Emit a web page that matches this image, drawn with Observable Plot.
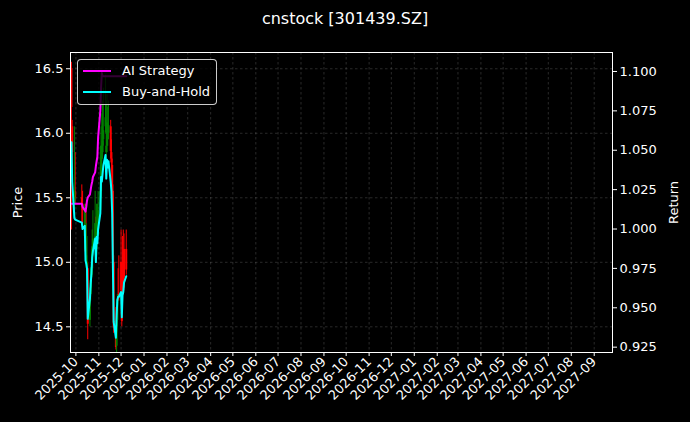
<!DOCTYPE html>
<html><head><meta charset="utf-8">
<script src="https://cdn.jsdelivr.net/npm/d3@7"></script>
<script src="https://cdn.jsdelivr.net/npm/@observablehq/plot@0.6"></script>
<style>
html,body{margin:0;padding:0;background:#000;}
#wrap{position:relative;width:690px;height:422px;background:#000;font-family:"DejaVu Sans",sans-serif;color:#fff;overflow:hidden;}
#title{height:38px;line-height:37px;text-align:center;font-size:16px;}
#legend{position:absolute;left:77px;top:59px;width:140px;height:46px;border:1px solid rgba(255,255,255,0.8);border-radius:4px;background:rgba(0,0,0,0.8);box-sizing:border-box;font-size:13px;}
.lg-line{position:absolute;left:5px;width:28px;height:2px;}
.lg-text{position:absolute;left:44px;line-height:16px;}
svg{display:block;}
</style>
</head><body>
<div id="wrap">
<div id="title">cnstock [301439.SZ]</div>
<div id="chart"></div>
<div id="legend">
  <div class="lg-line" style="top:10px;background:#ff00ff"></div><div class="lg-text" style="top:3px">AI Strategy</div>
  <div class="lg-line" style="top:31px;background:#00ffff"></div><div class="lg-text" style="top:24px">Buy-and-Hold</div>
</div>
</div>
<script>
const dates = ["2025-09-25","2025-09-26","2025-09-29","2025-09-30","2025-10-09","2025-10-10","2025-10-13","2025-10-14","2025-10-15","2025-10-16","2025-10-17","2025-10-20","2025-10-21","2025-10-22","2025-10-23","2025-10-24","2025-10-27","2025-10-28","2025-10-29","2025-10-30","2025-10-31","2025-11-03","2025-11-04","2025-11-05","2025-11-06","2025-11-07","2025-11-10","2025-11-11","2025-11-12","2025-11-13","2025-11-14","2025-11-17","2025-11-18","2025-11-19","2025-11-20","2025-11-21","2025-11-24","2025-11-25","2025-11-26","2025-11-27","2025-11-28","2025-12-01","2025-12-02","2025-12-03","2025-12-04","2025-12-05","2025-12-08"];
const opens  = [16.50,16.05,15.45,15.55,15.50,15.45,15.20,15.40,15.00,14.95,14.95,14.55,14.75,14.88,14.95,15.10,15.15,15.30,15.10,15.20,15.25,15.40,15.55,15.80,15.85,15.95,16.05,15.85,15.90,15.95,16.00,16.05,15.85,15.75,15.55,15.00,14.50,14.35,14.55,14.75,14.75,15.00,14.80,14.85,15.05,15.10,15.10];
const highs  = [16.55,16.10,16.05,15.85,15.60,15.55,15.45,15.45,15.30,15.20,15.00,14.80,14.95,15.10,15.25,15.40,15.55,15.35,15.45,15.45,15.55,15.75,16.05,16.15,16.25,16.35,16.45,16.25,16.30,16.20,16.25,16.10,15.95,15.80,15.60,15.05,14.65,14.60,14.75,14.95,15.05,15.25,14.90,15.20,15.25,15.22,15.25];
const lows   = [15.25,15.70,15.40,15.45,15.30,15.30,15.10,15.00,14.95,14.85,14.40,14.50,14.70,14.80,14.90,15.05,15.10,15.00,15.05,15.15,15.20,15.35,15.50,15.75,15.80,15.90,16.00,15.80,15.85,15.90,15.95,15.80,15.70,15.50,14.95,14.45,14.32,14.30,14.50,14.70,14.70,14.75,14.50,14.70,14.75,14.80,14.90];
const closes = [16.20,15.85,15.55,15.50,15.45,15.40,15.43,15.08,15.05,15.00,14.52,14.72,14.86,14.96,15.12,15.18,15.30,15.08,15.32,15.26,15.40,15.55,15.90,15.86,15.94,16.02,16.12,15.90,16.08,16.00,16.06,15.86,15.77,15.55,15.02,14.49,14.34,14.55,14.71,14.74,14.74,14.78,14.54,14.75,14.78,14.88,14.94];
const aiStrategy = [1.016,1.016,1.016,1.016,1.016,1.014,1.012,1.011,1.014,1.018,1.020,1.022,1.025,1.028,1.030,1.033,1.036,1.040,1.043,1.046,1.058,1.075,1.090,1.099,1.097,1.097,1.097,1.097,1.097,1.097,1.097,1.097,1.097,1.097,1.097,1.097,1.097,1.097,1.097,1.097,1.097,1.097,1.097,1.097,1.097,1.097,1.097];
const buyHold = [1.055,1.030,1.007,1.006,1.004,1.000,1.002,0.980,0.978,0.975,0.943,0.956,0.965,0.972,0.982,0.986,0.994,0.979,0.995,0.991,1.000,1.010,1.033,1.030,1.035,1.040,1.047,1.032,1.044,1.039,1.043,1.030,1.024,1.010,0.975,0.941,0.931,0.945,0.955,0.957,0.957,0.960,0.944,0.958,0.960,0.966,0.970];
const monthLabels = ["2025-10","2025-11","2025-12","2026-01","2026-02","2026-03","2026-04","2026-05","2026-06","2026-07","2026-08","2026-09","2026-10","2026-11","2026-12","2027-01","2027-02","2027-03","2027-04","2027-05","2027-06","2027-07","2027-08","2027-09"];
const priceTicks = [14.5,15.0,15.5,16.0,16.5];
const returnTicks = [0.925,0.950,0.975,1.000,1.025,1.050,1.075,1.100];

const parse = d3.utcParse("%Y-%m-%d");
const rows = dates.map((d,i)=>({date: parse(d), open: opens[i], high: highs[i], low: lows[i], close: closes[i], ai: aiStrategy[i], bh: buyHold[i]}));
const monthTicks = monthLabels.map(m => d3.utcParse("%Y-%m")(m));
// twin-axis alignment: return -> price coordinate
const toPrice = r => 3.049 + 12.209 * r;
const fromPrice = p => (p - 3.049) / 12.209;
const up = d => d.close >= d.open;
const down = d => d.close < d.open;

const chart = Plot.plot({
  width: 690, height: 384,
  marginLeft: 70, marginRight: 78, marginTop: 14, marginBottom: 70,
  style: {background: "transparent", color: "white", fontSize: "13px", fontFamily: "DejaVu Sans, sans-serif", overflow: "visible"},
  x: {type: "utc", domain: [new Date(Date.UTC(2025,8,23,17)), new Date(Date.UTC(2027,8,25,17))]},
  y: {domain: [14.301, 16.626]},
  marks: [
    Plot.gridX(monthTicks, {stroke: "#9a9a9a", strokeOpacity: 0.45, strokeDasharray: "2.5,2.5", strokeWidth: 0.6}),
    Plot.gridY(priceTicks, {stroke: "#9a9a9a", strokeOpacity: 0.45, strokeDasharray: "2.5,2.5", strokeWidth: 0.6}),
    Plot.ruleX(rows, {filter: down, x: "date", y1: "low", y2: "high", stroke: "red", strokeWidth: 1}),
    Plot.ruleX(rows, {filter: down, x: "date", y1: "open", y2: "close", stroke: "red", strokeWidth: 2}),
    Plot.ruleX(rows, {filter: up, x: "date", y1: "low", y2: "high", stroke: "green", strokeWidth: 1}),
    Plot.ruleX(rows, {filter: up, x: "date", y1: "open", y2: "close", stroke: "green", strokeWidth: 2}),
    Plot.line(rows, {x: "date", y: d => toPrice(d.ai), stroke: "#ff00ff", strokeWidth: 2}),
    Plot.line(rows, {x: "date", y: d => toPrice(d.bh), stroke: "#00ffff", strokeWidth: 2}),
    Plot.frame({stroke: "white", strokeWidth: 1}),
    Plot.axisX(monthTicks, {tickRotate: -45, tickFormat: d3.utcFormat("%Y-%m"), tickSize: 4, tickPadding: 3, label: null}),
    Plot.axisY(priceTicks, {anchor: "left", tickSize: 4, tickPadding: 3, tickFormat: d3.format(".1f"), label: "Price", labelAnchor: "center", labelArrow: "none", labelOffset: 58}),
    Plot.axisY(returnTicks.map(toPrice), {anchor: "right", tickSize: 4, tickPadding: 3, tickFormat: p => d3.format(".3f")(fromPrice(p)), label: "Return", labelAnchor: "center", labelArrow: "none", labelOffset: 65})
  ]
});
document.getElementById("chart").appendChild(chart);
</script>
</body></html>
